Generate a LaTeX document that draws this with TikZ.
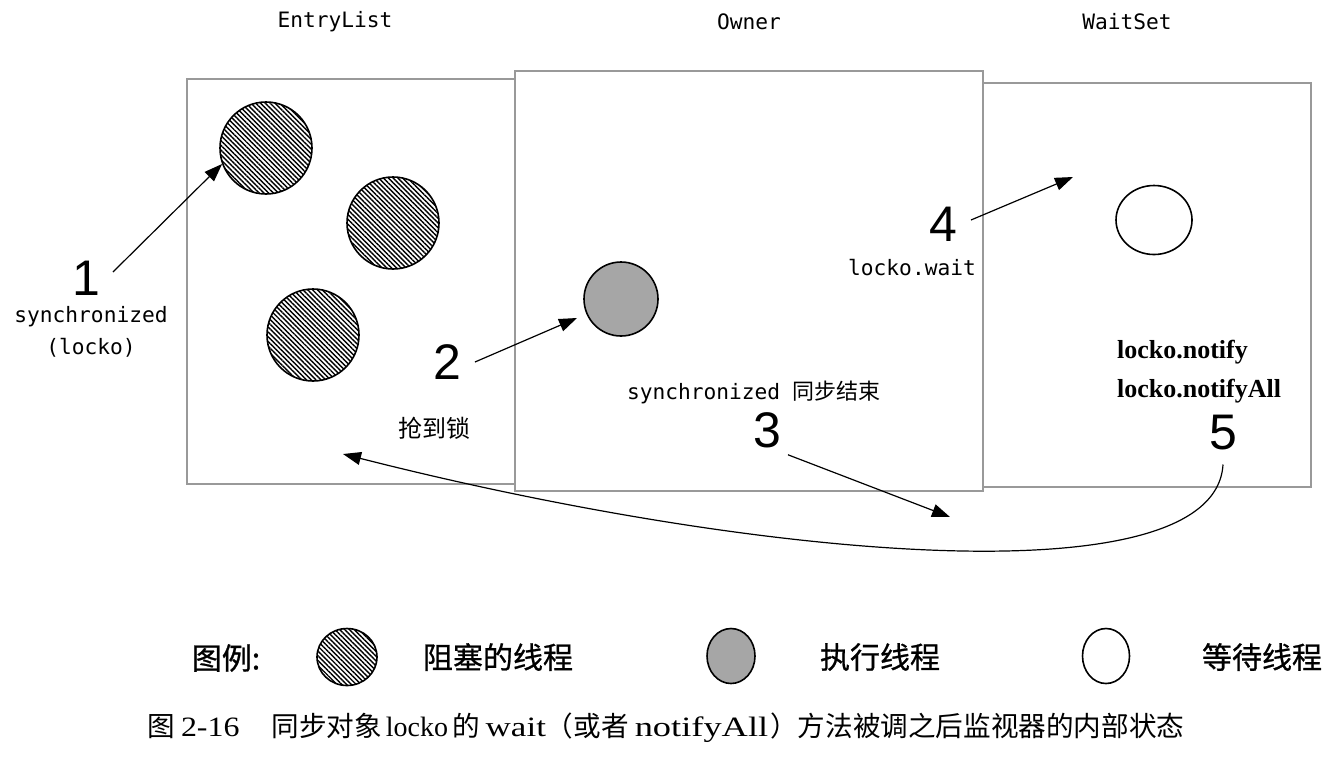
\documentclass[tikz,border=0pt]{standalone}
\usepackage{fontspec}
\setmainfont{Liberation Serif}
\setsansfont{Liberation Sans}
\setmonofont{DejaVu Sans Mono}
\newfontfamily\cjk{Noto Sans CJK SC}
\newfontfamily\cjkheavy[FakeBold=0.8]{Noto Sans CJK SC}
\usetikzlibrary{arrows.meta,patterns.meta,shapes.geometric}

\newcommand\latin[2]{{\rmfamily\fontsize{14}{16}\selectfont\scalebox{#1}[1]{#2}}}

\tikzset{
  pane/.style={draw=black!40,line width=0.6pt},
  blocked/.style={circle,draw,line width=0.8pt,inner sep=0pt,minimum size=46pt,
    pattern={Lines[angle=-45,distance=1.7pt,line width=0.7pt]}},
  running/.style={circle,draw,line width=0.8pt,fill=black!35,inner sep=0pt,minimum size=37pt},
  waiting/.style={ellipse,draw,line width=0.8pt,inner sep=0pt,minimum width=38pt,minimum height=34.5pt},
  stepnum/.style={font=\sffamily\fontsize{25}{30}\selectfont},
  code/.style={font=\ttfamily\fontsize{10.6}{16}\selectfont},
  hint/.style={font=\cjk\fontsize{12}{14}\selectfont},
  legend/.style={font=\cjkheavy\fontsize{15}{18}\selectfont},
  arr/.style={-{Triangle[length=9pt,width=6.5pt]},line width=0.6pt},
}

\begin{document}
\begin{tikzpicture}[x=0.5pt,y=-0.5pt]
  \useasboundingbox (0,0) rectangle (1331,761);

  % the three areas of the monitor
  \draw[pane] (187,79) rectangle (515,484);
  \draw[pane] (983,83) rectangle (1311,487);
  \draw[pane] (515,71) rectangle (983,491);
  \node[code] (entry) at (335,22) {EntryList};
  \node[code] (owner) at (749,22) {Owner};
  \node[code] (wset) at (1127,22) {WaitSet};

  % threads
  \node[blocked] (blockA) at (266,148) {};
  \node[blocked] (blockB) at (393,223) {};
  \node[blocked] (blockC) at (313,335) {};
  \node[running] (run) at (621,299) {};
  \node[waiting] (wait) at (1154,220) {};

  % steps
  \node[stepnum] (one) at (86,278) {1};
  \node[code,align=center] (syncl) at (91,332) {synchronized\\(locko)};
  \node[stepnum] (two) at (447,362) {2};
  \node[hint] (grab) at (434,428) {抢到锁};
  \node[code] (syncend) at (754,392) {synchronized {\cjk\fontsize{11}{14}\selectfont 同步结束}};
  \node[stepnum] (three) at (767,430) {3};
  \node[stepnum] (four) at (943,224) {4};
  \node[code] (lwait) at (912,268) {locko.wait};
  \node[font=\bfseries\fontsize{13}{19.5}\selectfont,align=left,anchor=west] (notify) at (1110,372) {locko.notify\\locko.notifyAll};
  \node[stepnum] (five) at (1223,433) {5};

  \coordinate (tipTwo) at (577,318);
  \coordinate (tipThree) at (950,517);
  \coordinate (tipFour) at (1073,177);
  \coordinate (tipFive) at (343,454);

  \draw[arr] ([xshift=3pt,yshift=3pt]one.east) -- (blockA.200);
  \draw[arr] ([xshift=3.5pt]two.east) -- (tipTwo);
  \draw[arr] (three.south east) -- (tipThree);
  \draw[arr] ([xshift=3.5pt,yshift=2pt]four.east) -- (tipFour);
  \draw[arr] ([yshift=-3.5pt]five.south) .. controls (1215,600) and (760,560) .. (tipFive);

  % legend
  \node[legend] (key) at (226,658) {图例:};
  \node[blocked,minimum size=0pt,minimum width=30pt,minimum height=28.5pt,ellipse] (keyBlock) at (347,657) {};
  \node[legend] (keyBlockTxt) at (498,657) {阻塞的线程};
  \node[running,minimum size=0pt,minimum width=24pt,minimum height=27.5pt,ellipse] (keyRun) at (731,656) {};
  \node[legend] (keyRunTxt) at (880,657) {执行线程};
  \node[waiting,minimum width=23.5pt,minimum height=27.5pt] (keyWait) at (1106,656) {};
  \node[legend] (keyWaitTxt) at (1262,657) {等待线程};

  % caption
  \node[font=\cjk\fontsize{13.8}{16}\selectfont,anchor=west,inner sep=0pt] (caption) at (147,728)
    {图\hspace{3pt}\latin{1.14}{2-16}\hspace{16pt}同步对象\hspace{2pt}\latin{1}{locko}\hspace{2pt}的\hspace{3pt}\latin{1.25}{wait}（或者\hspace{3pt}\latin{1.3}{notifyAll}\hspace{1pt}）方法被调之后监视器的内部状态};
\end{tikzpicture}
\end{document}
